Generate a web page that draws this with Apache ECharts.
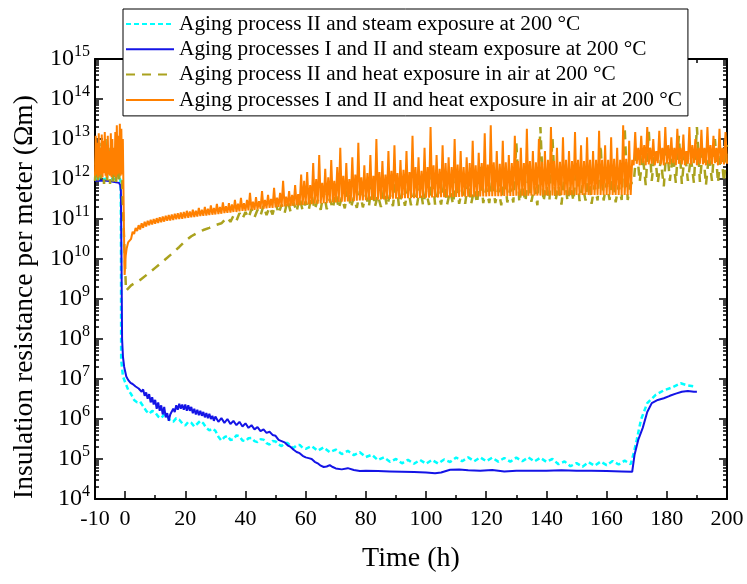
<!DOCTYPE html>
<html><head><meta charset="utf-8">
<script src="https://cdn.jsdelivr.net/npm/echarts@6/dist/echarts.min.js"></script>
<style>html,body{margin:0;padding:0;background:#fff}#c{width:747px;height:584px}</style>
</head><body><div id="c"></div>
<script>
// ---------- data (time in h, insulation resistance in Ωm) ----------
const seriesNames = [
  'Aging process II and steam exposure at 200 °C',
  'Aging processes I and II and steam exposure at 200 °C',
  'Aging process II and heat exposure in air at 200 °C',
  'Aging processes I and II and heat exposure in air at 200 °C'
];
const xTickLabels = [-10,0,20,40,60,80,100,120,140,160,180,200];
const xMajorTicks = [0,20,40,60,80,100,120,140,160,180,200];
const xMinorTicks = [10,30,50,70,90,110,130,150,170,190];
const yDecades = [1e4,1e5,1e6,1e7,1e8,1e9,1e10,1e11,1e12,1e13,1e14,1e15];

// cyan: aging II + steam
const cyanPre = [[-10,1e12],[-1.6,1e12],[-1.45,6e11],[-1.35,1e10],[-1.3,3e7],[-0.7,1.15e7],[0.1,8e6],[1.1,5.2e6]];
const cyanMain = [[2,4.2e6],[3,3e6],[4,2.6e6],[5,2.7e6],[6,2.1e6],[7,1.6e6],[8,1.35e6],[9,1.6e6],[10,1.45e6],[11,1.15e6],
 [12,1.05e6],[13,1.3e6],[14,1.2e6],[15,9e5],[16,8.5e5],[17,1.05e6],[18,9.6e5],[19,7.8e5],[20,6.9e5],[21,8.5e5],
 [22,8e5],[23,6.5e5],[24,7.6e5],[25,9e5],[26,7.8e5],[27,6e5],[28,5.2e5],[29,5.8e5],[30,5.1e5],[31,3.6e5],
 [32,2.9e5],[33,3.5e5],[34,3.8e5],[35,3e5],[36,3.1e5],[37,3.9e5],[38,3.7e5],[39,2.9e5],[40,2.8e5],[41,3.3e5],
 [42,3.35e5],[43,2.8e5],[44,2.65e5],[45,3.1e5],[46,3.05e5],[47,2.5e5],[48,2.3e5],[49,2.8e5],[50,2.75e5],[51,2.3e5],
 [52,2.1e5],[53,2.5e5],[54,2.5e5],[55,2.1e5],[56,1.9e5],[57,2.2e5],[58,2.25e5],[59,1.9e5],[60,1.8e5],
 [62,2.1e5],[64,1.6e5],[66,1.95e5],[68,1.48e5],[70,1.72e5],[72,1.33e5],[74,1.6e5],[76,1.25e5],[78,1.48e5],[80,1.12e5],
 [82,1.28e5],[84,9.4e4],[86,1.1e5],[88,8.5e4],[90,1e5],[92,7.8e4],[94,9.5e4],[96,7.6e4],[98,9.5e4],[100,7.6e4],
 [102,9.5e4],[104,7.7e4],[106,9.7e4],[108,8.4e4],[110,1.09e5],[112,8.8e4],[114,1.1e5],[116,8.8e4],[118,1.1e5],[120,8.8e4],
 [122,1.08e5],[124,8.6e4],[126,1.06e5],[128,8.6e4],[130,1.08e5],[132,8.8e4],[134,1.1e5],[136,8.7e4],[138,1.07e5],[140,8.5e4],
 [142,1e5],[144,7.4e4],[146,8.7e4],[148,6.6e4],[150,7.9e4],[152,6.4e4],[154,8.3e4],[156,6.8e4],[158,8.6e4],[160,7e4],
 [162,8.9e4],[164,7.3e4],[166,9.1e4],[168,7.4e4]];
const cyanPost = [[169,1.4e5],[170,3e5],[171.4,9.5e5],[173.5,2.5e6],[176.3,4e6],[179,5.2e6],[181.9,6.2e6],[184.6,7.8e6],[186.7,7e6],[188.8,6.6e6],[189.5,6.3e6]];

// blue: aging I+II + steam
const bluePre = [[-10,9e11],[-6,9e11],[-2,8e11],[-1.6,7e11],[-1.4,5e11],[-1.2,1e10],[-1.0,1e8],[-0.7,3.5e7],[-0.3,2e7],[0.4,1.15e7],[1,9.5e6],[1.8,8e6]];
const blueMain = [[2.5,7.5e6],[3,7.8e6],[3.5,6.5e6],[3.9,7e6],[4.5,5.8e6],[5,6.3e6],[5.5,4.8e6],[6,5.5e6],[6.5,3.8e6],[7,4.6e6],
 [7.5,3.2e6],[8,4.2e6],[8.5,2.6e6],[9,3.5e6],[9.5,2.3e6],[10,3e6],[10.5,1.8e6],[11,2.6e6],[11.5,1.6e6],[12,2.2e6],
 [12.5,1.3e6],[13,2e6],[13.5,1.1e6],[14,1.4e6],[14.5,9e5],[15,1.3e6],[15.5,1.2e6],[16,1.8e6],[16.5,1.5e6],[17,2.2e6],
 [17.5,1.7e6],[18,2.4e6],[18.5,1.8e6],[19,2.3e6],[19.5,1.7e6],[20,2.3e6],[20.5,1.6e6],[21,2.2e6],[21.5,1.6e6],[22,2e6],
 [22.5,1.4e6],[23,1.8e6],[23.5,1.3e6],[24,1.7e6],[24.5,1.25e6],[25,1.6e6],[25.5,1.2e6],[26,1.5e6],[26.5,1.1e6],[27,1.4e6],
 [27.5,1.05e6],[28,1.35e6],[28.5,1e6],[29,1.2e6],[29.5,9e5],[30,1.15e6],[31,8.5e5],[32,1.05e6],[33,8e5],[34,1e6],
 [35,7.5e5],[36,9e5],[37,7e5],[38,8.5e5],[39,6.5e5],[40,7.8e5],[41,6e5],[42,7e5],[43,5.5e5],[44,6.3e5],
 [45,5e5],[46,5.5e5],[47,4.5e5],[48,4.8e5],[49,4e5],[50,3.8e5],[51,3e5],[52,2.8e5],[53,2.6e5],[54,2.2e5],
 [55,2e5],[56,1.7e5],[57,1.5e5],[58,1.4e5],[59,1.2e5],[60,1.1e5],[61,1.05e5],[62,1e5],[63,8.5e4],[64,7.8e4],
 [65,6.8e4],[66,6.3e4],[67,6.5e4],[68,7e4],[69,6.3e4],[70,5.8e4],[72,5.5e4],[74,5.9e4],[76,5.3e4],[78,5e4],
 [80,5.1e4],[84,5e4],[88,4.9e4],[92,4.8e4],[96,4.7e4],[100,4.6e4],[103,4.4e4],[105,4.6e4],[108,5.4e4],[111,5.5e4],
 [114,5.2e4],[118,5.1e4],[122,5.3e4],[126,4.9e4],[130,5.1e4],[135,5.1e4],[140,5.1e4],[145,5.2e4],[150,5.1e4],[155,5.1e4],
 [160,5e4],[165,4.9e4],[168.5,4.8e4]];
const bluePost = [[169.3,1.3e5],[170.5,3e5],[172,6e5],[173.5,1.5e6],[175,2.5e6],[177,3e6],[179,3.3e6],[181,3.8e6],[183,4.3e6],[185,4.8e6],[187,5e6],[189,4.8e6],[190,4.8e6]];

// olive: aging II + heat in air
const olivePre = [[-10,9e11],[-9.5,5e12],[-9,8e11],[-8.5,8e12],[-8,8.5e11],[-7.5,4e12],[-7,7.5e11],[-6.5,1e13],[-6,8e11],[-5.5,6e12],
 [-5,7.5e11],[-4.5,9e12],[-4,8e11],[-3.5,5e12],[-3,7e11],[-2.5,1.2e13],[-2,8e11],[-1.5,6e12],[-1,7.5e11],[-0.6,7e11]];
const oliveRise = [[0.3,1.6e9],[2,2.2e9],[5,3e9],[8,4.5e9],[10,6e9],[12,8e9],[15,1.25e10],[18,2e10],[20,2.8e10],[22,3.7e10],
 [24,4.5e10],[26,5.3e10],[28,6e10],[30,7e10],[32,7.8e10]];
const oliveMain = [[34,1.1e11],[35,8.5e10],[36,1.2e11],[37,9e10],[38,1.4e11],[39,1e11],[40,1.5e11],[41,1.05e11],[42,1.8e11],[43,1.1e11],
 [44,1.7e11],[45,1.2e11],[46,2.2e11],[47,1.25e11],[48,2e11],[49,1.3e11],[50,2.6e11],[51,1.35e11],[52,2.3e11],[53,1.4e11],
 [54,3e11],[55,1.5e11],[56,2.6e11],[57,1.5e11],[58,3.5e11],[59,1.6e11],[60,2.8e11],[61,1.65e11],[62,4e11],[63,1.7e11],
 [64,3e11],[65,1.7e11],[66,5e11],[67,1.75e11],[68,3.2e11],[69,1.8e11],[70,4.5e11],[71,1.8e11],[72,3.5e11],[73,1.85e11],
 [74,6e11],[75,1.9e11],[76,3.5e11],[77,1.9e11],[78,5e11],[79,1.95e11],[80,4e11],[81,2e11],[82,8e11],[83,2e11],
 [84,4e11],[85,2e11],[86,5.5e11],[87,2.05e11],[88,4e11],[89,2.1e11],[90,1e12],[91,2.1e11],[92,4.5e11],[93,2.15e11],
 [94,6e11],[95,2.2e11],[96,4.5e11],[97,2.2e11],[98,7e11],[99,2.2e11],[100,5e11],[101,2.25e11],[102,1.5e12],[103,2.3e11],
 [104,5e11],[105,2.3e11],[106,8e11],[107,2.3e11],[108,5e11],[109,2.35e11],[110,1.2e12],[111,2.4e11],[112,5.5e11],[113,2.4e11],
 [114,9e11],[115,2.4e11],[116,5.5e11],[117,2.45e11],[118,2e12],[119,2.5e11],[120,6e11],[121,2.5e11],[122,1e12],[123,2.5e11],
 [124,6e11],[125,2.2e11],[126,1.5e12],[127,2.6e11],[128,6e11],[129,2.6e11],[130,8e12],[131,2.6e11],[132,7e11],[133,2.7e11],
 [134,1.2e12],[135,2.7e11],[136,6.5e11],[137,2.2e11],[138,2e13],[139,2.7e11],[140,7e11],[141,2.8e11],[142,1.1e13],[143,2.8e11],
 [144,7e11],[145,2.3e11],[146,1.3e12],[147,2.8e11],[148,7e11],[149,2.8e11],[150,2.5e12],[151,2.8e11],[152,7e11],[153,2.9e11],
 [154,1.4e12],[155,2.4e11],[156,7e11],[157,2.9e11],[158,7e12],[159,2.9e11],[160,8e11],[161,3e11],[162,1.6e12],[163,2.6e11],
 [164,7e11],[165,3e11],[166,2e13],[167,3e11],[168,8e11]];
const olivePost = [[169,8e11],[170,6e12],[171,8.5e11],[172,4e12],[173,7e11],[174,1.6e13],[175,9e11],[176,5e12],[177,8e11],[178,3e12],
 [179,6.5e11],[180,8e12],[181,9e11],[182,4e12],[183,8e11],[184,1.2e13],[185,7.5e11],[186,5e12],[187,9e11],[188,3.5e12],
 [189,8e11],[190,2e13],[191,8.5e11],[192,6e12],[193,7e11],[194,4e12],[195,9e11],[196,1e13],[197,8e11],[198,5e12],[199,8.5e11],[200,7e12]];

// orange: aging I+II + heat in air
const orangePre = [[-10,1.2e12],[-9.75,1.2e13],[-9.5,1.3e12],[-9.25,8e12],[-9,1.1e12],[-8.75,1.4e13],[-8.5,1.2e12],[-8.25,6e12],
 [-8,1.3e12],[-7.75,1.3e13],[-7.5,1.1e12],[-7.25,9e12],[-7,1.4e12],[-6.75,1.5e13],[-6.5,1.2e12],[-6.25,7e12],[-6,1.1e12],
 [-5.75,1.2e13],[-5.5,1.3e12],[-5.25,5e12],[-5,1.2e12],[-4.75,1.4e13],[-4.5,1.1e12],[-4.25,1e13],[-4,1.3e12],[-3.75,6e12],
 [-3.5,1.2e12],[-3.25,1.5e13],[-3,1.1e12],[-2.75,2.2e13],[-2.5,1.3e12],[-2.25,1.2e13],[-2,1.4e12],[-1.75,2.4e13],[-1.5,1.2e12],
 [-1.25,1.8e13],[-1,1.3e12],[-0.75,1e13],[-0.5,3e11],[-0.3,2e10],[-0.15,4e9],[0.2,1.2e10],[0.5,1.8e10],[1,2.6e10]];
const orangeMain = [
 [2,3.2e10],[2.5,4.8e10],[3,4.2e10],[3.5,6e10],[4,5e10],[4.5,7e10],[5,5.5e10],[5.5,7.8e10],[6,6e10],[6.5,8.5e10],
 [7,6.5e10],[7.5,9e10],[8,7e10],[8.5,9.5e10],[9,7.3e10],[9.5,1e11],[10,7.6e10],[10.5,1.05e11],[11,8e10],[11.5,1.1e11],
 [12,8.3e10],[12.5,1.15e11],[13,8.6e10],[13.5,1.2e11],[14,9e10],[14.5,1.25e11],[15,9.2e10],[15.5,1.3e11],[16,9.5e10],[16.5,1.35e11],
 [17,9.8e10],[17.5,1.4e11],[18,1e11],[18.5,1.45e11],[19,1.02e11],[19.5,1.5e11],[20,1.05e11],[20.5,1.6e11],[21,1.08e11],[21.5,1.55e11],
 [22,1.1e11],[22.5,1.7e11],[23,1.12e11],[23.5,1.6e11],[24,1.15e11],[24.5,1.9e11],[25,1.18e11],[25.5,1.7e11],[26,1.2e11],[26.5,2e11],
 [27,1.22e11],[27.5,1.8e11],[28,1.25e11],[28.5,2.2e11],[29,1.28e11],[29.5,1.9e11],[30,1.3e11],[30.5,2.4e11],[31,1.33e11],[31.5,2e11],
 [32,1.36e11],[32.5,2.6e11],[33,1.4e11],[33.5,2.1e11],[34,1.42e11],[34.5,2.5e11],[35,1.45e11],[35.5,2.3e11],[36,1.5e11],[36.5,3e11],
 [37,1.5e11],[37.5,2.4e11],[38,1.55e11],[38.5,3.4e11],[39,1.6e11],[39.5,2.5e11],[40,1.6e11],[40.5,3e11],[41,1.65e11],[41.5,4.5e11],
 [42,1.7e11],[42.5,2.7e11],[43,1.7e11],[43.5,3.5e11],[44,1.75e11],[44.5,2.8e11],[45,1.8e11],[45.5,5e11],[46,1.8e11],[46.5,3e11],
 [47,1.85e11],[47.5,4e11],[48,1.9e11],[48.5,3.2e11],[49,1.9e11],[49.5,6e11],[50,1.95e11],[50.5,3.4e11],[51,2e11],[51.5,4.5e11],
 [52,2e11],[52.5,9e11],[53,2.05e11],[53.5,3.6e11],[54,2.1e11],[54.5,5e11],[55,2.1e11],[55.5,4e11],[56,2.15e11],[56.5,7e11],
 [57,2.2e11],[57.5,4.2e11],[58,2.2e11],[58.5,1.3e12],[59,2.25e11],[59.5,9e11],[60,2.3e11],[60.5,1.5e12],[61,2.3e11],[61.5,7e11],
 [62,2.35e11],[62.5,2.5e12],[63,2.4e11],[63.5,1e12],[64,2.4e11],[64.5,4e12],[65,2.45e11],[65.5,8e11],[66,2.5e11],[66.5,1.8e12],
 [67,2.5e11],[67.5,1.1e12],[68,2.55e11],[68.5,3e12],[69,2.6e11],[69.5,9e11],[70,2.6e11],[70.5,2e12],[71,2.65e11],[71.5,6e12],
 [72,2.7e11],[72.5,1.2e12],[73,2.7e11],[73.5,2.5e12],[74,2.75e11],[74.5,1e12],[75,2.8e11],[75.5,3.5e12],[76,2.8e11],[76.5,1.3e12],
 [77,2.85e11],[77.5,8e12],[78,2.9e11],[78.5,1.1e12],[79,2.9e11],[79.5,2.2e12],[80,2.95e11],[80.5,1.4e12],[81,3e11],[81.5,4e12],
 [82,3e11],[82.5,1.2e12],[83,3e11],[83.5,1e13],[84,3.05e11],[84.5,1.5e12],[85,3.1e11],[85.5,2.8e12],[86,3.1e11],[86.5,1.3e12],
 [87,3.1e11],[87.5,5e12],[88,3.15e11],[88.5,1.6e12],[89,3.2e11],[89.5,7e12],[90,3.2e11],[90.5,1.4e12],[91,3.2e11],[91.5,3e12],
 [92,3.25e11],[92.5,1.7e12],[93,3.3e11],[93.5,5e12],[94,3.3e11],[94.5,1.5e12],[95,3.3e11],[95.5,1.2e13],[96,3.3e11],[96.5,2e12],
 [97,3.35e11],[97.5,3.5e12],[98,3.35e11],[98.5,1.6e12],[99,3.4e11],[99.5,6e12],[100,3.4e11],[100.5,2e12],[101,3.4e11],[101.5,2e13],
 [102,3.45e11],[102.5,2.2e12],[103,3.45e11],[103.5,4e12],[104,3.45e11],[104.5,1.8e12],[105,3.5e11],[105.5,7e12],[106,3.5e11],[106.5,2.5e12],
 [107,3.5e11],[107.5,3.5e12],[108,3.5e11],[108.5,2e12],[109,3.55e11],[109.5,1e13],[110,3.55e11],[110.5,2.3e12],[111,3.55e11],[111.5,5e12],
 [112,3.6e11],[112.5,2e12],[113,3.6e11],[113.5,3.5e12],[114,3.6e11],[114.5,2.5e12],[115,3.6e11],[115.5,9e12],[116,3.6e11],[116.5,2.2e12],
 [117,3.65e11],[117.5,4.5e12],[118,3.65e11],[118.5,2.5e12],[119,3.65e11],[119.5,1.4e13],[120,3.65e11],[120.5,2.3e12],[121,3.7e11],[121.5,2.2e13],
 [122,3.7e11],[122.5,2.6e12],[123,3.7e11],[123.5,5e12],[124,3.7e11],[124.5,2.4e12],[125,3.7e11],[125.5,9e12],[126,3.75e11],[126.5,2.6e12],
 [127,3.75e11],[127.5,4e12],[128,3.75e11],[128.5,2.5e12],[129,3.75e11],[129.5,1.2e13],[130,3.8e11],[130.5,2.8e12],[131,3.8e11],[131.5,6e12],
 [132,3.8e11],[132.5,2.5e12],[133,3.8e11],[133.5,1.8e13],[134,3.8e11],[134.5,2.8e12],[135,3.85e11],[135.5,5e12],[136,3.85e11],[136.5,2.6e12],
 [137,3.85e11],[137.5,1e13],[138,3.85e11],[138.5,2.7e12],[139,3.9e11],[139.5,5e12],[140,3.9e11],[140.5,3e12],[141,3.9e11],[141.5,2e13],
 [142,3.9e11],[142.5,2.8e12],[143,3.9e11],[143.5,6e12],[144,3.9e11],[144.5,2.7e12],[145,3.95e11],[145.5,1.1e13],[146,3.95e11],[146.5,3e12],
 [147,3.95e11],[147.5,5e12],[148,3.95e11],[148.5,2.8e12],[149,4e11],[149.5,1.5e13],[150,4e11],[150.5,3e12],[151,4e11],[151.5,7e12],
 [152,4e11],[152.5,2.8e12],[153,4e11],[153.5,1.1e13],[154,4e11],[154.5,3e12],[155,4e11],[155.5,5e12],[156,4e11],[156.5,3e12],
 [157,4e11],[157.5,1.6e13],[158,4e11],[158.5,3e12],[159,4e11],[159.5,7e12],[160,4e11],[160.5,3e12],[161,4e11],[161.5,1.1e13],
 [162,4e11],[162.5,3.2e12],[163,4e11],[163.5,6e12],[164,4e11],[164.5,3e12],[165,4e11],[165.5,2.2e13],[166,4e11],[166.5,3.2e12],
 [167,4e11],[167.5,9e12],[168,4e11],[168.5,3e12]];
const orangePost = [
 [169,2.2e12],[169.5,1.5e13],[170,2.4e12],[170.5,6e12],[171,2.2e12],[171.5,1.2e13],[172,2.5e12],[172.5,7e12],[173,2.2e12],[173.5,2e13],
 [174,2.3e12],[174.5,6e12],[175,2.4e12],[175.5,1e13],[176,2.2e12],[176.5,5e12],[177,2.5e12],[177.5,1.6e13],[178,2.3e12],[178.5,6e12],
 [179,2.2e12],[179.5,2e13],[180,2.4e12],[180.5,7e12],[181,2.3e12],[181.5,1.1e13],[182,2.5e12],[182.5,6e12],[183,2.2e12],[183.5,1.8e13],
 [184,2.4e12],[184.5,6e12],[185,2.3e12],[185.5,1.3e13],[186,2.2e12],[186.5,5e12],[187,2.4e12],[187.5,2e13],[188,2.3e12],[188.5,7e12],
 [189,2.5e12],[189.5,1e13],[190,2.2e12],[190.5,6e12],[191,2.4e12],[191.5,1.7e13],[192,2.3e12],[192.5,6e12],[193,2.2e12],[193.5,2e13],
 [194,2.4e12],[194.5,7e12],[195,2.3e12],[195.5,1.2e13],[196,2.5e12],[196.5,6e12],[197,2.2e12],[197.5,1.8e13],[198,2.4e12],[198.5,6e12],
 [199,2.3e12],[199.5,1.5e13],[200,2.4e12]];

// ---------- chart ----------
const F = '"Liberation Serif", "Times New Roman", serif';
const yMinorTicks = [];
for (let e = 4; e < 15; e++) for (let k = 2; k <= 9; k++) yMinorTicks.push(k * Math.pow(10, e));

function xAx(pos, ticks, len, showLine, labels, extra) {
  return Object.assign({
    type: 'value', min: -10, max: 200, position: pos, gridIndex: 0,
    axisLine: {show: showLine, onZero: false, lineStyle: {color: '#000', width: 2}},
    axisTick: {show: true, inside: true, length: len, customValues: ticks, lineStyle: {color: '#000', width: 1.5}},
    axisLabel: labels ? {show: true, customValues: labels, margin: 9, fontSize: 22, fontFamily: F, color: '#000'} : {show: false},
    splitLine: {show: false}
  }, extra || {});
}
function yAx(pos, ticks, len, showLine, labels, extra) {
  return Object.assign({
    type: 'log', logBase: 10, min: 1e4, max: 1.000001e15, position: pos, gridIndex: 0,
    axisLine: {show: showLine, onZero: false, lineStyle: {color: '#000', width: 2}},
    axisTick: {show: true, inside: true, length: len, customValues: ticks, lineStyle: {color: '#000', width: 1.5}},
    axisLabel: labels ? {
      show: true, customValues: labels, margin: 5, color: '#000',
      formatter: v => '{b|10}{s|' + Math.round(Math.log10(v)) + '}',
      rich: {
        b: {fontSize: 24, fontFamily: F, color: '#000', lineHeight: 30},
        s: {fontSize: 16, fontFamily: F, color: '#000', verticalAlign: 'top', lineHeight: 17}
      }
    } : {show: false},
    splitLine: {show: false}
  }, extra || {});
}

const colors = ['#00ffff', '#1414e6', '#aaa21e', '#ff8000'];
const chart = echarts.init(document.getElementById('c'), null, {renderer: 'canvas'});
chart.setOption({
  animation: false,
  backgroundColor: '#fff',
  grid: {left: 95, right: 20, top: 59, bottom: 85, containLabel: false},
  legend: {
    left: 123, top: 9, orient: 'vertical', z: 20,
    backgroundColor: '#fff', borderColor: '#000', borderWidth: 1,
    padding: [4.5, 6, 5.5, 2], itemWidth: 48, itemHeight: 14, itemGap: 4.3,
    itemStyle: {opacity: 0},
    textStyle: {fontSize: 21.3, fontFamily: F, color: '#000', lineHeight: 21},
    data: seriesNames
  },
  xAxis: [
    xAx('bottom', xMajorTicks, 8, true, xTickLabels, {
      name: 'Time (h)', nameLocation: 'middle', nameGap: 46,
      nameTextStyle: {fontSize: 28, fontFamily: F, color: '#000'}
    }),
    xAx('bottom', xMinorTicks, 4, false, null),
    xAx('top', xMajorTicks, 8, true, null),
    xAx('top', xMinorTicks, 4, false, null)
  ],
  yAxis: [
    yAx('left', yDecades, 8, true, yDecades, {
      name: 'Insulation resistance per meter (\u03A9m)', nameLocation: 'middle', nameGap: 52,
      nameTextStyle: {fontSize: 27.5, fontFamily: F, color: '#000', padding: [0, 36, 0, 0]}
    }),
    yAx('left', yMinorTicks, 4, false, null),
    yAx('right', yDecades, 8, true, null),
    yAx('right', yMinorTicks, 4, false, null)
  ],
  series: [
    {name: seriesNames[0], type: 'line', symbol: 'none', z: 2,
     data: cyanPre.concat(cyanMain, cyanPost),
     itemStyle: {color: colors[0]}, lineStyle: {color: colors[0], width: 2.5, type: [5, 3]}},
    {name: seriesNames[1], type: 'line', symbol: 'none', z: 3,
     data: bluePre.concat(blueMain, bluePost),
     itemStyle: {color: colors[1]}, lineStyle: {color: colors[1], width: 2}},
    {name: seriesNames[2], type: 'line', symbol: 'none', z: 4,
     data: olivePre.concat(oliveRise, oliveMain, olivePost),
     itemStyle: {color: colors[2]}, lineStyle: {color: colors[2], width: 2.5, type: [9, 7]}},
    {name: seriesNames[3], type: 'line', symbol: 'none', z: 5,
     data: orangePre.concat(orangeMain, orangePost),
     itemStyle: {color: colors[3]}, lineStyle: {color: colors[3], width: 2}}
  ]
});
</script></body></html>
